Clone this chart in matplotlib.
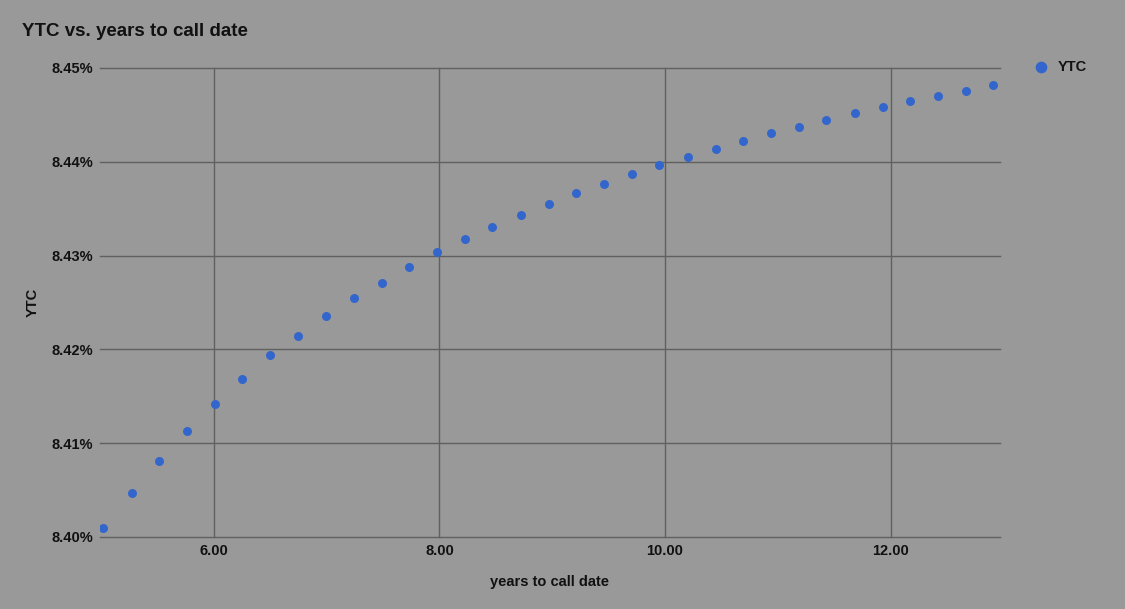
import matplotlib.pyplot as plt
from matplotlib.ticker import FuncFormatter

plt.rcParams['font.family'] = ['Liberation Sans', 'DejaVu Sans']

# years to call date vs. yield to call (%)
years = [5.02, 5.27, 5.51, 5.76, 6.01, 6.25, 6.50, 6.75, 6.99, 7.24, 7.49, 7.73,
         7.98, 8.23, 8.47, 8.72, 8.97, 9.21, 9.46, 9.71, 9.95, 10.20, 10.45, 10.69,
         10.94, 11.19, 11.43, 11.68, 11.93, 12.17, 12.42, 12.67, 12.91]
ytc = [8.4010, 8.4047, 8.4081, 8.4113, 8.4142, 8.4168, 8.4194, 8.4214, 8.4236,
       8.4255, 8.4271, 8.4288, 8.4304, 8.4318, 8.4330, 8.4343, 8.4355, 8.4367,
       8.4376, 8.4387, 8.4397, 8.4405, 8.4414, 8.4422, 8.4431, 8.4437, 8.4445,
       8.4452, 8.4458, 8.4465, 8.4470, 8.4475, 8.4482]
x_ticks = [6, 8, 10, 12]
y_ticks = [8.40, 8.41, 8.42, 8.43, 8.44, 8.45]

bg = '#999999'
fig = plt.figure(figsize=(11.25, 6.09), dpi=100, facecolor=bg)
ax = fig.add_axes([100 / 1125, 72 / 609, 900 / 1125, 469 / 609], facecolor=bg)

ax.scatter(years, ytc, s=42, color='#3366cc', zorder=3, label='YTC', linewidths=0)

ax.set_xlim(4.99, 12.97)
ax.set_ylim(8.40, 8.45)
ax.set_xticks(x_ticks)
ax.set_yticks(y_ticks)
ax.xaxis.set_major_formatter(FuncFormatter(lambda v, p: f"{v:.2f}"))
ax.yaxis.set_major_formatter(FuncFormatter(lambda v, p: f"{v:.2f}%"))
ax.grid(True, color='#606060', linewidth=1)
for gl in ax.get_xgridlines() + ax.get_ygridlines():
    gl.set_clip_on(False)
ax.set_axisbelow(True)
for s in ax.spines.values():
    s.set_visible(False)
ax.tick_params(length=0, labelsize=10.5, labelcolor='#111111')
ax.tick_params(axis='y', pad=5)
ax.tick_params(axis='x', pad=5)
for lbl in ax.get_xticklabels() + ax.get_yticklabels():
    lbl.set_fontweight('bold')

ax.set_xlabel('years to call date', fontsize=10.5, fontweight='bold', color='#111111', labelpad=12)
ax.set_ylabel('YTC', fontsize=10.5, fontweight='bold', color='#111111', labelpad=8)

fig.text(22 / 1125, 1 - 32 / 609, 'YTC vs. years to call date', fontsize=13.5,
         fontweight='bold', color='#111111', va='center', ha='left')

leg = ax.legend(loc='upper left', bbox_to_anchor=(1.015, 1.046), frameon=False,
                prop={'weight': 'bold', 'size': 10.5}, handletextpad=0.1, markerscale=1.3)
for t in leg.get_texts():
    t.set_color('#111111')

fig.savefig('out.png', dpi=100, facecolor=bg)
